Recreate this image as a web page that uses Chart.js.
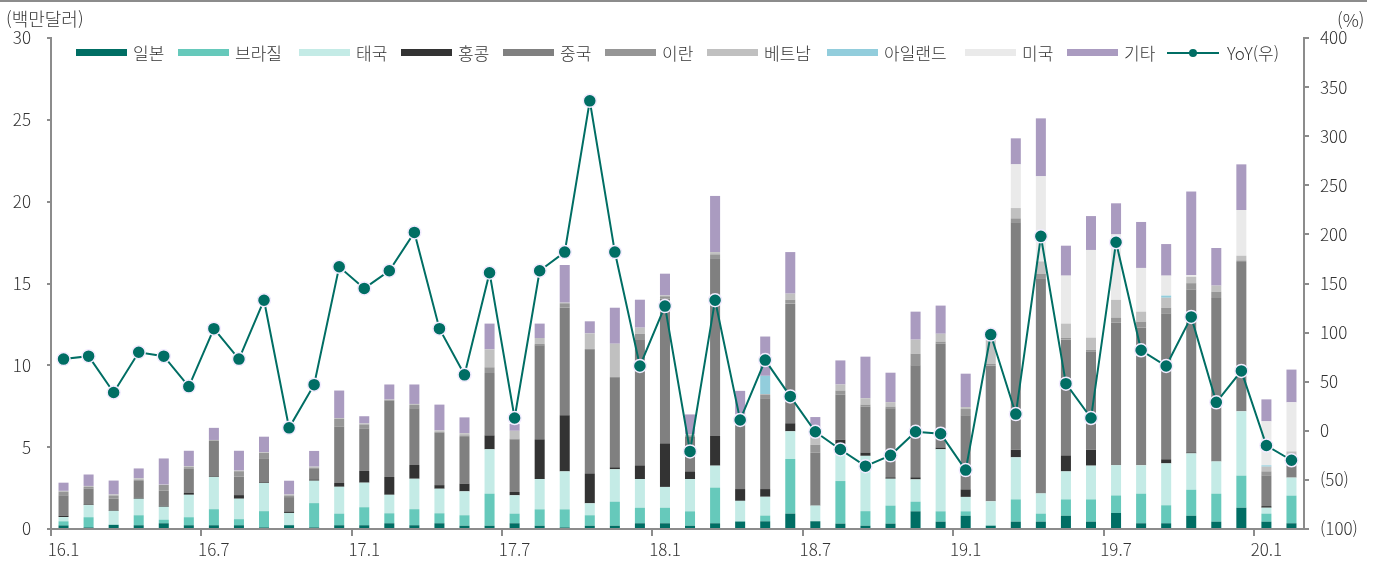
<!DOCTYPE html>
<html lang="ko">
<head>
<meta charset="utf-8">
<title>국가별 수출</title>
<script src="https://cdn.jsdelivr.net/npm/chart.js@4.4.0/dist/chart.umd.min.js"></script>
<style>
  html, body { margin: 0; padding: 0; background: #fff; }
  #wrap { position: relative; width: 1383px; height: 569px; overflow: hidden;
          font-family: 'Noto Sans CJK KR', 'Noto Sans', sans-serif; font-weight: 300; color: #333; }
  #topline { position: absolute; left: 0; top: 0; width: 1367px; height: 2px; background: #8c8c8c; }
  .axis-title { position: absolute; font-size: 18px; line-height: 20px; white-space: nowrap; }
  .lg-sw { position: absolute; height: 7px; top: 49px; }
  .lg-tx { position: absolute; top: 42px; font-size: 17px; line-height: 22px; white-space: nowrap; }
  canvas { position: absolute; left: 0; top: 0; }
</style>
</head>
<body>
<div id="wrap">
  <canvas id="grafica" width="1383" height="569" style="width:1383px;height:569px"></canvas>
  <div id="topline"></div>
  <div class="axis-title" style="left:6px;top:8px">(백만달러)</div>
  <div class="axis-title" style="left:1337px;top:9px">(%)</div>
  <div id="legend"></div>
</div>
<script>
// ---- datos ----
const categories = [
  '16.1','16.2','16.3','16.4','16.5','16.6','16.7','16.8','16.9','16.10','16.11','16.12',
  '17.1','17.2','17.3','17.4','17.5','17.6','17.7','17.8','17.9','17.10','17.11','17.12',
  '18.1','18.2','18.3','18.4','18.5','18.6','18.7','18.8','18.9','18.10','18.11','18.12',
  '19.1','19.2','19.3','19.4','19.5','19.6','19.7','19.8','19.9','19.10','19.11','19.12',
  '20.1','20.2'
];

const japan = [0.22,0.10,0.25,0.23,0.35,0.23,0.23,0.23,0.10,0.23,0.10,0.23,
  0.23,0.35,0.23,0.35,0.20,0.20,0.35,0.20,0.10,0.20,0.20,0.35,
  0.35,0.20,0.35,0.45,0.47,0.94,0.47,0.33,0.20,0.33,1.08,0.45,
  0.81,0.20,0.45,0.45,0.81,0.45,0.98,0.35,0.35,0.81,0.45,1.30,
  0.45,0.35];
const brazil = [0.25,0.62,0.02,0.61,0.22,0.49,0.98,0.37,0.99,0.02,1.48,0.71,
  1.10,0.61,0.98,0.61,0.64,1.96,0.59,1.00,1.10,0.64,1.47,0.95,
  0.95,0.88,2.18,0.03,0.35,3.34,0.02,2.60,0.89,1.10,0.59,0.63,
  0.27,0.02,1.36,0.49,1.00,1.36,1.07,1.81,1.10,1.59,1.71,1.96,
  0.49,1.69];
const thailand = [0.26,0.74,0.84,1.01,0.79,1.37,1.97,1.25,1.72,0.73,1.37,1.64,
  1.50,1.13,1.86,1.50,1.46,2.71,1.12,1.85,2.32,0.73,1.98,1.75,
  1.27,1.97,1.34,1.24,1.15,1.69,0.94,2.27,3.38,1.64,1.36,3.79,
  0.88,1.47,2.57,1.24,1.71,2.06,1.85,1.73,2.56,2.22,1.97,3.93,
  0.36,1.10];
const hongkong = [0.08,0.04,0.04,0.06,0.06,0.11,0.04,0.22,0.04,0.09,0.08,0.23,
  0.72,1.09,0.84,0.22,0.47,0.85,0.20,2.43,3.43,1.83,0.12,0.84,
  2.66,0.47,1.83,0.72,0.47,0.49,0.02,0.25,0.20,0.09,0.13,0.10,
  0.46,0,0.47,0.02,0.98,0.98,0,0,0.25,0.06,0.02,0,
  0.10,0];
const china = [1.25,0.96,0.70,1.03,0.92,1.48,2.16,1.13,1.43,0.88,0.64,3.46,
  2.60,4.67,3.47,3.20,2.85,3.81,3.22,5.74,6.59,7.58,5.50,7.70,
  8.84,2.14,10.84,4.40,5.55,7.31,3.22,2.77,2.81,4.22,6.84,6.35,
  4.53,8.29,13.89,13.12,7.07,5.99,8.72,8.41,8.90,9.95,9.96,9.12,
  1.88,1.00];
const iran = [0.22,0.11,0.20,0.08,0.35,0.10,0.04,0.33,0.37,0.10,0.08,0.47,
  0.24,0.04,0.20,0.06,0.10,0.35,0.04,0.10,0.25,0.02,0.03,0.34,
  0.15,0.06,0.24,0.10,0.23,0.24,0.47,0.24,0.12,0.10,0.71,0.13,
  0.38,0.10,0.24,0.28,0.12,0.10,0.30,0.37,0.36,0.39,0.39,0.10,
  0.24,0.30];
const vietnam = [0.05,0.06,0.06,0.08,0.02,0.06,0.02,0.04,0.04,0.06,0.06,0.04,
  0.06,0.02,0.06,0.08,0.13,1.10,0.48,0.35,0.04,0.95,2.02,0.37,
  0.05,0.06,0.14,0.05,0.02,0.37,0.50,0.37,0.39,0.27,0.86,0.48,
  0.12,1.50,0.63,0.75,0.86,0.75,1.08,0.61,0.61,0.39,0.37,0.29,
  0.29,0.30];
const ireland = [0,0,0,0,0,0,0,0,0,0,0,0,
  0,0,0,0,0,0,0,0,0,0,0,0,
  0,0,0,0,1.12,0,0,0,0,0,0,0,
  0,0,0,0,0,0,0,0,0.13,0,0,0,
  0.08,0];
const usa = [0,0,0,0,0,0,0,0,0,0,0,0,
  0,0,0,0,0,0,0,0,0,0,0,0,
  0,0,0,0,0,0,0,0,0,0,0,0,
  0,0,2.67,5.20,2.93,5.36,4.00,2.67,1.22,0.10,0,2.79,
  2.69,3.00];
const others = [0.50,0.70,0.85,0.60,1.60,0.94,0.74,1.21,0.95,0.84,0.96,1.68,
  0.44,0.92,1.19,1.58,0.97,1.57,0.42,0.88,2.30,0.74,2.20,1.71,
  1.33,1.22,3.43,1.45,2.40,2.54,1.20,1.47,2.54,1.80,1.71,1.72,
  2.04,0,1.59,3.54,1.83,2.07,1.90,2.81,1.93,5.11,2.30,2.79,
  1.34,2.00];
const yoy = [73,76,39,80,76,45,104,73,133,3,47,167,
  145,163,202,104,57,161,13,163,182,336,182,66,
  127,-21,133,11,72,35,-1,-19,-36,-25,-1,-3,
  -40,98,17,198,48,13,192,82,66,116,29,61,
  -15,-30];

const leftTicks = [0, 5, 10, 15, 20, 25, 30];
const rightTicks = [-100, -50, 0, 50, 100, 150, 200, 250, 300, 350, 400];

// ---- estilos ----
const seriesNames = ['일본','브라질','태국','홍콩','중국','이란','베트남','아일랜드','미국','기타'];
const seriesData = [japan, brazil, thailand, hongkong, china, iran, vietnam, ireland, usa, others];
const seriesColors = ['#006e64','#66c9bb','#c4ebe6','#333333','#808080','#969696','#c0c0c0','#92cddc','#eaeaea','#aa9bc0'];
const lineColor = '#006e64';
const axisColor = '#8c8c8c';
const legendX = [76,178,299,401,503,605,707,827,965,1067];
const legendYoYX = 1167;

document.addEventListener('DOMContentLoaded', () => {
  try {
    Chart.defaults.font.family = "'Noto Sans CJK KR', 'Noto Sans', sans-serif";
    Chart.defaults.font.size = 17;
    Chart.defaults.font.weight = 300;
    Chart.defaults.color = '#333';

    const datasets = seriesNames.map((name, i) => ({
      type: 'bar',
      label: name,
      data: seriesData[i],
      backgroundColor: seriesColors[i],
      borderWidth: 0,
      barPercentage: 0.4,
      categoryPercentage: 1.0,
      yAxisID: 'y',
      stack: 'paises',
      order: 1
    }));
    datasets.push({
      type: 'line',
      label: 'YoY(우)',
      data: yoy,
      yAxisID: 'y1',
      borderColor: lineColor,
      borderWidth: 2,
      pointRadius: 6.5,
      pointBackgroundColor: lineColor,
      pointBorderColor: '#f3ecff',
      pointBorderWidth: 1.5,
      tension: 0,
      order: 0
    });

    const ctx = document.getElementById('grafica').getContext('2d');
    new Chart(ctx, {
      data: { labels: categories, datasets: datasets },
      options: {
        responsive: false,
        animation: false,
        devicePixelRatio: 1,
        layout: { padding: { top: 38, left: 0, right: 0, bottom: 0 } },
        plugins: { legend: { display: false }, tooltip: { enabled: false } },
        scales: {
          x: {
            stacked: true,
            offset: true,
            grid: {
              offset: true,
              drawOnChartArea: false,
              drawTicks: true,
              tickLength: 7,
              lineWidth: 2,
              color: (c) => (c.index !== undefined && c.index % 6 === 0) ? axisColor : 'rgba(0,0,0,0)'
            },
            border: { display: true, color: axisColor, width: 2 },
            ticks: {
              autoSkip: false,
              maxRotation: 0,
              padding: 3,
              callback: (v, i) => (i % 6 === 0 ? categories[i] : '')
            },
            afterFit: (s) => { s.height = 40; }
          },
          y: {
            position: 'left',
            stacked: true,
            min: 0,
            max: 30,
            afterBuildTicks: (s) => { s.ticks = leftTicks.map(v => ({ value: v })); },
            grid: { drawOnChartArea: false, drawTicks: true, tickLength: 4, color: axisColor, lineWidth: 2 },
            border: { display: true, color: axisColor, width: 2 },
            ticks: { padding: 16 },
            afterFit: (s) => { s.width = 51; }
          },
          y1: {
            position: 'right',
            min: -100,
            max: 400,
            afterBuildTicks: (s) => { s.ticks = rightTicks.map(v => ({ value: v })); },
            grid: { drawOnChartArea: false, drawTicks: true, tickLength: 5, color: axisColor, lineWidth: 2 },
            border: { display: true, color: axisColor, width: 2 },
            ticks: {
              padding: 11,
              callback: (v) => (v < 0 ? '(' + (-v) + ')' : String(v))
            },
            afterFit: (s) => { s.width = 79; }
          }
        }
      }
    });

    // leyenda
    const legend = document.getElementById('legend');
    seriesNames.forEach((name, i) => {
      const sw = document.createElement('div');
      sw.className = 'lg-sw';
      sw.style.left = legendX[i] + 'px';
      sw.style.width = '51px';
      sw.style.background = seriesColors[i];
      legend.appendChild(sw);
      const tx = document.createElement('div');
      tx.className = 'lg-tx';
      tx.style.left = (legendX[i] + 57) + 'px';
      tx.textContent = name;
      legend.appendChild(tx);
    });
    const ln = document.createElement('div');
    ln.style.cssText = 'position:absolute;top:52px;height:2px;width:52px;left:' + legendYoYX + 'px;background:' + lineColor;
    legend.appendChild(ln);
    const dot = document.createElement('div');
    dot.style.cssText = 'position:absolute;top:49px;width:8px;height:8px;border-radius:50%;left:' + (legendYoYX + 22) + 'px;background:' + lineColor;
    legend.appendChild(dot);
    const yt = document.createElement('div');
    yt.className = 'lg-tx';
    yt.style.left = (legendYoYX + 60) + 'px';
    yt.textContent = 'YoY(우)';
    legend.appendChild(yt);
  } catch (e) {
    console.error('Error al crear la gráfica:', e);
  }
});
</script>
</body>
</html>
